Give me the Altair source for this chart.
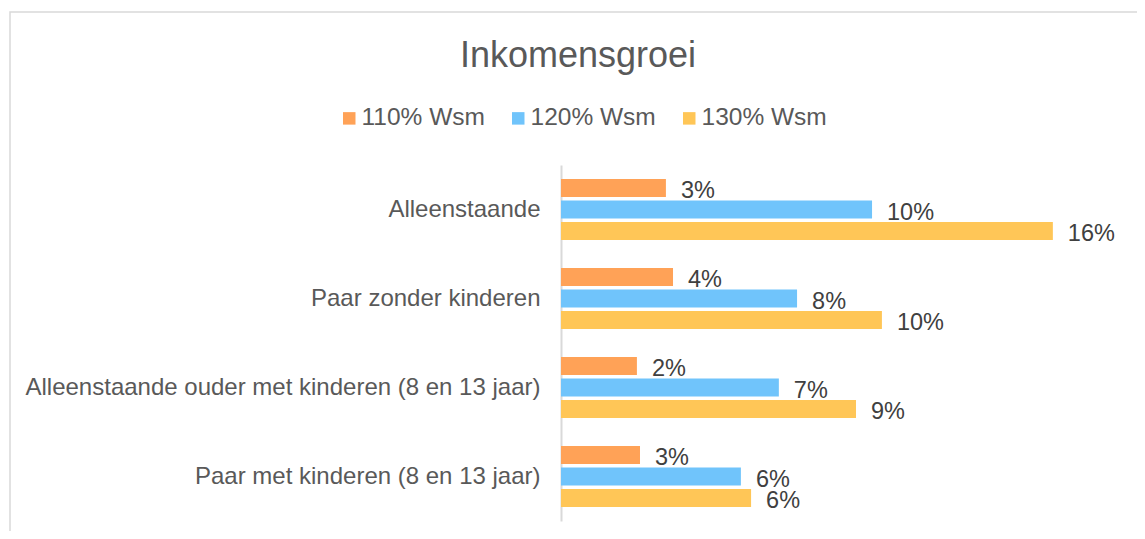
import altair as alt
import pandas as pd

categories = [
    "Alleenstaande",
    "Paar zonder kinderen\u00a0",
    "Alleenstaande ouder met kinderen (8 en 13 jaar)",
    "Paar met kinderen (8 en 13 jaar)",
]
series = ["110% Wsm", "120% Wsm", "130% Wsm"]
colors = ["#FFA257", "#70C4FB", "#FFC657"]

v110 = [3.40, 3.63, 2.46, 2.56]
v120 = [10.08, 7.65, 7.06, 5.83]
v130 = [15.94, 10.40, 9.56, 6.16]

l110 = ["3%", "4%", "2%", "3%"]
l120 = ["10%", "8%", "7%", "6%"]
l130 = ["16%", "10%", "9%", "6%"]

rows = []
for s, vals, labs in zip(series, [v110, v120, v130], [l110, l120, l130]):
    for c, v, l in zip(categories, vals, labs):
        rows.append({"cat": c, "series": s, "value": v, "label": l})
df = pd.DataFrame(rows)

FONT = "Liberation Sans"

base = alt.Chart(df).encode(
    y=alt.Y(
        "cat:N",
        sort=categories,
        scale=alt.Scale(paddingInner=0.315, paddingOuter=0.1575),
        axis=alt.Axis(
            title=None,
            labelFontSize=24,
            labelFont=FONT,
            labelColor="#595959",
            labelPadding=21,
            labelLimit=700,
            ticks=False,
            domainColor="#D9D9D9",
            domainWidth=2,
            grid=False,
        ),
    ),
    yOffset=alt.YOffset(
        "series:N", sort=series, scale=alt.Scale(paddingInner=0.16, paddingOuter=0)
    ),
)

bars = base.mark_bar().encode(
    x=alt.X("value:Q", scale=alt.Scale(domain=[0, 17.5], nice=False), axis=None),
    color=alt.Color(
        "series:N",
        sort=series,
        scale=alt.Scale(domain=series, range=colors),
        legend=alt.Legend(
            title=None,
            orient="none",
            legendX=-228,
            legendY=-59,
            direction="horizontal",
            symbolType="square",
            symbolSize=156,
            symbolStrokeWidth=0,
            symbolOpacity=1,
            symbolOffset=4,
            labelFontSize=24.5,
            labelFont=FONT,
            labelColor="#595959",
            labelOffset=0,
            columnPadding=17,
            padding=0,
        ),
    ),
)

text = base.mark_text(
    align="left", baseline="middle", dx=15, dy=3, fontSize=23.5, font=FONT, color="#404040"
).encode(x="value:Q", text="label:N")

frame = alt.Chart(pd.DataFrame({"a": [0]})).mark_rect(
    fill="transparent", stroke="#D9D9D9", strokeWidth=1.5
).encode(
    x=alt.value(-551), x2=alt.value(700), y=alt.value(-153), y2=alt.value(450)
)

chart = (
    alt.layer(frame, bars, text)
    .properties(
        width=540,
        height=356,
        title=alt.TitleParams(
            "Inkomensgroei",
            fontSize=36,
            font=FONT,
            fontWeight="normal",
            color="#595959",
            anchor="middle",
            baseline="alphabetic",
            dx=-253,
            offset=-92,
        ),
        autosize=alt.AutoSizeParams(type="none"),
        padding={"left": 553, "top": 157, "right": 36, "bottom": 10},
    )
    .configure_view(stroke=None)
)

chart.save("out.html", embed_options={"renderer": "svg", "actions": False})
